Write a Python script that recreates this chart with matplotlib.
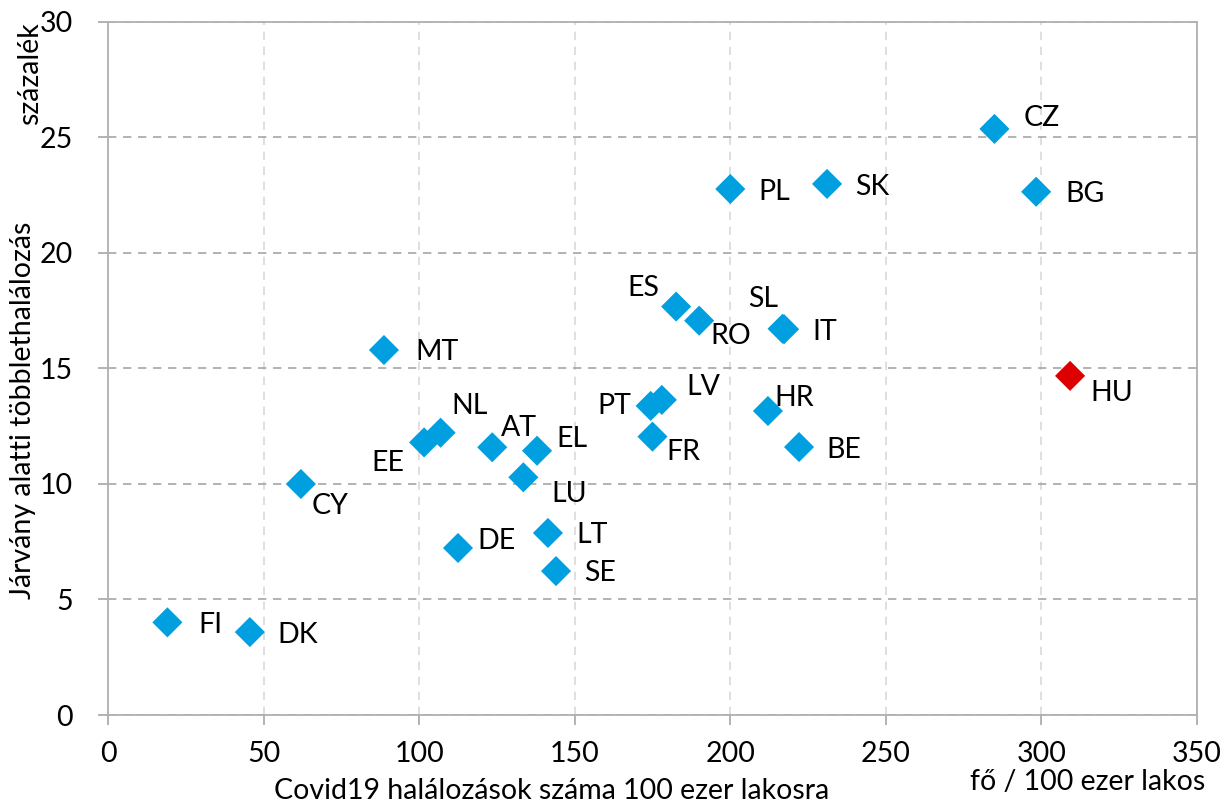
import numpy as np
import matplotlib
matplotlib.use("Agg")
import matplotlib.pyplot as plt

plt.rcParams['font.family'] = ['Lato', 'DejaVu Sans']

countries = ['FI', 'DK', 'CY', 'MT', 'EE', 'NL', 'AT', 'EL', 'LU', 'DE', 'LT', 'SE',
             'ES', 'RO', 'PT', 'LV', 'FR', 'SL', 'IT', 'PL', 'SK', 'HR', 'BE',
             'CZ', 'BG', 'HU']
covid_deaths = [19.1, 45.6, 62.0, 88.7, 101.6, 106.9, 123.5, 137.9, 133.5, 112.5, 141.4, 144.0,
                182.6, 190.0, 174.4, 178.0, 175.0, 216.8, 217.3, 200.0, 231.1, 212.1, 222.1,
                284.9, 298.3, 309.2]
excess_mort = [4.01, 3.59, 10.0, 15.8, 11.8, 12.22, 11.59, 11.44, 10.29, 7.23, 7.88, 6.23,
               17.68, 17.07, 13.38, 13.64, 12.05, 16.72, 16.7, 22.77, 22.99, 13.16, 11.6,
               25.37, 22.65, 14.68]
# label offsets in pixels (dx, dy; dy positive = down)
label_off = [(43, 3), (48, 3), (29, 22), (53, 2), (-36, 21), (29, -27), (27, -19), (35, -12),
             (46, 17), (38, -7), (44, 2), (44, 2),
             (-33, -19), (32, 15), (-36, 0), (41, -13), (31, 15), (-19, -30), (41, 3),
             (44, 3), (45, 3), (26, -13), (45, 3),
             (47, -11), (49, 2), (42, 17)]
highlight = 'HU'

blue = '#009FDF'
red = '#DD0000'
fs = 20.5

fig = plt.figure(figsize=(12.31, 8.05), dpi=100)
ax = fig.add_axes([0.0877, 0.1118, 0.8847, 0.8609])

colors = [red if c == highlight else blue for c in countries]
ax.scatter(covid_deaths, excess_mort, s=235, marker='D', c=colors, linewidths=0, zorder=3)

for c, x, y, (dx, dy) in zip(countries, covid_deaths, excess_mort, label_off):
    ax.annotate(c, (x, y), xytext=(dx, -dy), textcoords='offset pixels',
                ha='center', va='center', fontsize=fs, zorder=4)

ax.set_xlim(0, 350)
ax.set_ylim(0, 30)
ax.set_xticks(np.arange(0, 351, 50))
ax.set_yticks(np.arange(0, 31, 5))
ax.tick_params(labelsize=fs, length=7, color='#a6a6a6', width=1.2)
ax.tick_params(axis='x', pad=12)
ax.tick_params(axis='y', pad=18)

ax.xaxis.grid(True, color='#d9d9d9', linestyle=(0, (5, 4)), linewidth=1.2)
ax.yaxis.grid(True, color='#a6a6a6', linestyle=(0, (5, 4)), linewidth=1.2)
ax.set_axisbelow(True)
for sp in ax.spines.values():
    sp.set_color('#b0b0b0')
    sp.set_linewidth(1.3)

ax.set_xlabel('Covid19 halálozások száma 100 ezer lakosra', fontsize=fs)
ax.xaxis.set_label_coords(0.407, -0.091)
ax.set_ylabel('Járvány alatti többlethalálozás', fontsize=fs)
ax.yaxis.set_label_coords(-0.066, 0.44)

fig.text(0.024, 0.972, 'százalék', rotation=90, ha='center', va='top', fontsize=fs)
fig.text(0.979, 0.029, 'fő / 100 ezer lakos', ha='right', va='center', fontsize=fs)

fig.savefig('out.png', dpi=100)
